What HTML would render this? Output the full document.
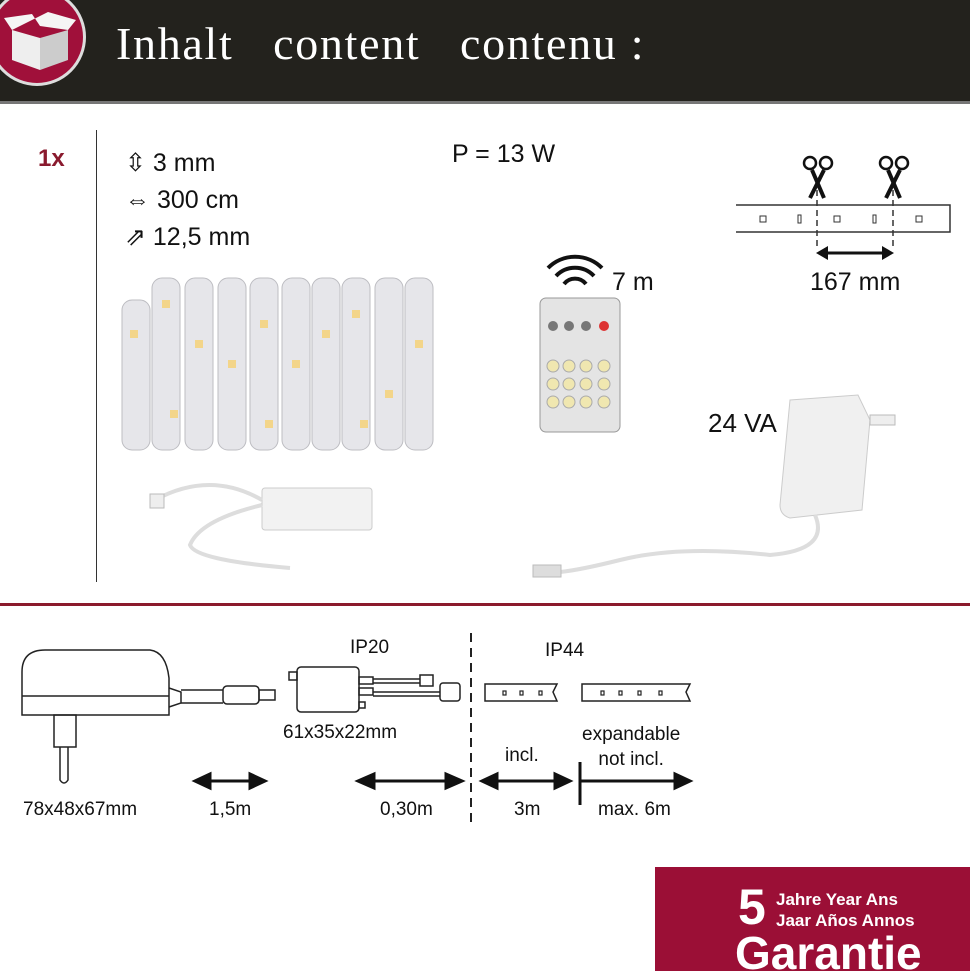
<!DOCTYPE html>
<html><head><meta charset="utf-8"><style>
body{margin:0;width:970px;height:971px;background:#fff;position:relative;overflow:hidden;font-family:"Liberation Sans",sans-serif;color:#111}
.a{position:absolute;white-space:nowrap}
.n{font-family:"Liberation Sans Narrow","Liberation Sans",sans-serif}
</style></head><body>
<div class="a" style="left:0;top:0;width:970px;height:101px;background:#23221d;border-bottom:3px solid #777"></div>
<div class="a" style="left:-12px;top:-12px;width:92px;height:92px;border-radius:50%;background:#a0103a;border:3px solid #ddd"></div>
<svg class="a" style="left:4px;top:12px" width="72" height="62" viewBox="0 0 72 62"><polygon points="8,18 36,26 36,58 8,48" fill="#eee"/><polygon points="36,26 64,18 64,48 36,58" fill="#ccc"/><polygon points="8,18 0,6 28,2 36,14 64,18 72,8 44,0" fill="#f5f5f5"/></svg>
<div class="a" style="left:116px;top:17px;font-family:'Liberation Serif',serif;font-size:46px;color:#fff;letter-spacing:1.7px">Inhalt&nbsp;&nbsp; content&nbsp;&nbsp; contenu :</div>

<div class="a n" style="left:38px;top:145px;font-size:24px;font-weight:bold;color:#8a1a2e">1x</div>
<div class="a" style="left:96px;top:130px;width:1px;height:452px;background:#333"></div>
<div class="a n" style="left:125px;top:145px;font-size:25px;line-height:37px">⇳ 3 mm<br>⇔ 300 cm<br>⇗ 12,5 mm</div>
<div class="a n" style="left:452px;top:140px;font-size:25px">P = 13 W</div>

<svg class="a" style="left:0;top:0" width="970" height="600">
<g fill="#e6e6ea" stroke="#bdbdc2">
<rect x="122" y="300" width="28" height="150" rx="10"/><rect x="152" y="278" width="28" height="172" rx="10"/><rect x="185" y="278" width="28" height="172" rx="10"/><rect x="218" y="278" width="28" height="172" rx="10"/><rect x="250" y="278" width="28" height="172" rx="10"/><rect x="282" y="278" width="28" height="172" rx="10"/><rect x="312" y="278" width="28" height="172" rx="10"/><rect x="342" y="278" width="28" height="172" rx="10"/><rect x="375" y="278" width="28" height="172" rx="10"/><rect x="405" y="278" width="28" height="172" rx="10"/>
</g>
<g fill="#f3d58a"><rect x="130" y="330" width="8" height="8"/><rect x="162" y="300" width="8" height="8"/><rect x="195" y="340" width="8" height="8"/><rect x="228" y="360" width="8" height="8"/><rect x="260" y="320" width="8" height="8"/><rect x="292" y="360" width="8" height="8"/><rect x="322" y="330" width="8" height="8"/><rect x="352" y="310" width="8" height="8"/><rect x="385" y="390" width="8" height="8"/><rect x="415" y="340" width="8" height="8"/><rect x="170" y="410" width="8" height="8"/><rect x="265" y="420" width="8" height="8"/><rect x="360" y="420" width="8" height="8"/></g>
<rect x="262" y="488" width="110" height="42" rx="3" fill="#f2f2f2" stroke="#ccc"/>
<path d="M262 505 Q200 520 190 545 Q195 560 290 568" fill="none" stroke="#ddd" stroke-width="4"/>
<path d="M262 500 Q210 470 155 500" fill="none" stroke="#ddd" stroke-width="4"/>
<rect x="150" y="494" width="14" height="14" fill="#eee" stroke="#bbb"/>
<rect x="540" y="298" width="80" height="134" rx="6" fill="#e4e4e4" stroke="#999"/>
<g fill="#777"><circle cx="553" cy="326" r="5"/><circle cx="569" cy="326" r="5"/><circle cx="586" cy="326" r="5"/></g><circle cx="604" cy="326" r="5" fill="#d33"/>
<g fill="#f0e7b0" stroke="#aaa"><circle cx="553" cy="366" r="6"/><circle cx="569" cy="366" r="6"/><circle cx="586" cy="366" r="6"/><circle cx="604" cy="366" r="6"/><circle cx="553" cy="384" r="6"/><circle cx="569" cy="384" r="6"/><circle cx="586" cy="384" r="6"/><circle cx="604" cy="384" r="6"/><circle cx="553" cy="402" r="6"/><circle cx="569" cy="402" r="6"/><circle cx="586" cy="402" r="6"/><circle cx="604" cy="402" r="6"/></g>
<g fill="none" stroke="#111" stroke-width="4"><path d="M548 268 A38 38 0 0 1 602 268"/><path d="M556 276 A26 26 0 0 1 594 276"/><path d="M564 284 A14 14 0 0 1 586 284"/></g>
<path d="M736 205 H950 V232 H736" fill="#fff" stroke="#333" stroke-width="1.5"/>
<g fill="none" stroke="#333"><rect x="760" y="216" width="6" height="6"/><rect x="798" y="215" width="3" height="8"/><rect x="834" y="216" width="6" height="6"/><rect x="873" y="215" width="3" height="8"/><rect x="916" y="216" width="6" height="6"/></g>
<g stroke="#333" stroke-dasharray="6,4" stroke-width="1.5"><line x1="817" y1="180" x2="817" y2="248"/><line x1="893" y1="180" x2="893" y2="248"/></g>
<g fill="none" stroke="#111" stroke-width="2.5"><circle cx="810" cy="163" r="6"/><circle cx="826" cy="163" r="6"/><circle cx="886" cy="163" r="6"/><circle cx="902" cy="163" r="6"/></g>
<g stroke="#111" stroke-width="4"><line x1="812" y1="170" x2="824" y2="198"/><line x1="824" y1="170" x2="810" y2="198"/><line x1="888" y1="170" x2="900" y2="198"/><line x1="900" y1="170" x2="886" y2="198"/></g>
<line x1="822" y1="253" x2="888" y2="253" stroke="#111" stroke-width="3"/><polygon points="816,253 828,246 828,260" fill="#111"/><polygon points="894,253 882,246 882,260" fill="#111"/>
<path d="M790 400 L858 395 L870 420 L862 510 L790 518 Q780 515 780 505 Z" fill="#f0f0f0" stroke="#ccc"/>
<rect x="870" y="415" width="25" height="10" fill="#eee" stroke="#bbb"/>
<path d="M815 515 Q830 550 770 555 Q680 545 620 560 Q580 570 560 572" fill="none" stroke="#ddd" stroke-width="4"/>
<rect x="533" y="565" width="28" height="12" fill="#ddd" stroke="#bbb"/>
</svg>
<div class="a n" style="left:612px;top:268px;font-size:25px">7 m</div>
<div class="a n" style="left:810px;top:268px;font-size:25px">167 mm</div>
<div class="a n" style="left:708px;top:408px;font-size:26px">24 VA</div>

<div class="a" style="left:0;top:603px;width:970px;height:3px;background:#8b1a2c"></div>

<svg class="a" style="left:0;top:0" width="500" height="840" fill="none" stroke="#222" stroke-width="1.5">
<path d="M22 715 V672 Q22 650 45 650 H150 Q166 652 169 678 V715 Z"/><line x1="22" y1="696" x2="169" y2="696"/>
<path d="M169 688 L181 692 V703 L169 707"/><line x1="181" y1="690" x2="223" y2="690"/><line x1="181" y1="703" x2="223" y2="703"/>
<rect x="223" y="686" width="36" height="18" rx="4"/><rect x="259" y="690" width="16" height="10"/>
<rect x="54" y="715" width="22" height="32"/><path d="M60 747 V780 Q64 786 68 780 V747"/>
<rect x="297" y="667" width="62" height="45" rx="4"/><rect x="289" y="672" width="8" height="8"/>
<rect x="359" y="677" width="14" height="7"/><rect x="359" y="688" width="14" height="7"/><rect x="359" y="702" width="6" height="6"/>
<line x1="373" y1="679" x2="420" y2="679"/><line x1="373" y1="683" x2="420" y2="683"/><line x1="373" y1="692" x2="440" y2="692"/><line x1="373" y1="696" x2="440" y2="696"/>
<rect x="420" y="675" width="13" height="11"/><rect x="440" y="683" width="20" height="18" rx="3"/>
</svg>
<svg class="a" style="left:0;top:600px" width="970" height="240">
<g fill="none" stroke="#222" stroke-width="1.5"><path d="M485 84 H557 L553 92 L557 101 H485 Z"/><path d="M582 84 H690 L686 92 L690 101 H582 Z"/></g>
<g fill="none" stroke="#222" stroke-width="1.2"><rect x="503" y="91" width="3" height="4"/><rect x="520" y="91" width="3" height="4"/><rect x="539" y="91" width="3" height="4"/><rect x="601" y="91" width="3" height="4"/><rect x="619" y="91" width="3" height="4"/><rect x="638" y="91" width="3" height="4"/><rect x="659" y="91" width="3" height="4"/></g>
<line x1="471" y1="33" x2="471" y2="226" stroke="#222" stroke-width="2" stroke-dasharray="9,6"/>
<g stroke="#111" stroke-width="3" fill="#111">
<line x1="205" y1="181" x2="255" y2="181"/><polygon points="195,181 210,174 210,188"/><polygon points="265,181 250,174 250,188"/>
<line x1="370" y1="181" x2="452" y2="181"/><polygon points="358,181 374,174 374,188"/><polygon points="462,181 446,174 446,188"/>
<line x1="492" y1="181" x2="560" y2="181"/><polygon points="482,181 497,174 497,188"/><polygon points="570,181 555,174 555,188"/>
<line x1="580" y1="181" x2="680" y2="181"/><polygon points="690,181 675,174 675,188"/><line x1="580" y1="162" x2="580" y2="205"/>
</g></svg>
<div class="a n" style="left:350px;top:637px;font-size:19px">IP20</div>
<div class="a n" style="left:545px;top:640px;font-size:19px">IP44</div>
<div class="a n" style="left:283px;top:722px;font-size:19px">61x35x22mm</div>
<div class="a n" style="left:582px;top:722px;font-size:19px;text-align:center;line-height:25px">expandable<br>not incl.</div>
<div class="a n" style="left:505px;top:745px;font-size:19px">incl.</div>
<div class="a n" style="left:23px;top:799px;font-size:19px">78x48x67mm</div>
<div class="a n" style="left:209px;top:799px;font-size:19px">1,5m</div>
<div class="a n" style="left:380px;top:799px;font-size:19px">0,30m</div>
<div class="a n" style="left:514px;top:799px;font-size:19px">3m</div>
<div class="a n" style="left:598px;top:799px;font-size:19px">max. 6m</div>

<div class="a" style="left:655px;top:867px;width:315px;height:104px;background:#9b0f36"></div>
<div class="a" style="left:738px;top:882px;font-size:50px;font-weight:bold;color:#fff;line-height:50px">5</div>
<div class="a" style="left:776px;top:889px;font-size:17px;font-weight:bold;color:#fff;line-height:21px">Jahre Year Ans<br>Jaar Años Annos</div>
<div class="a" style="left:735px;top:928px;font-size:46px;font-weight:bold;color:#fff;line-height:50px">Garantie</div>
</body></html>
